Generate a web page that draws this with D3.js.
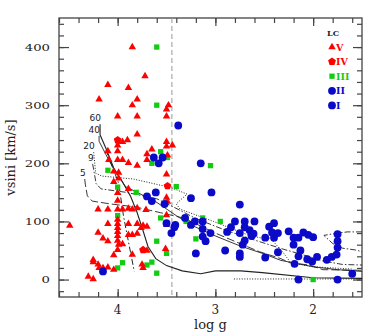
<!DOCTYPE html>
<html>
<head>
<meta charset="utf-8">
<script src="https://cdn.jsdelivr.net/npm/d3@7"></script>
<style>
  html, body { margin: 0; background: #fff; }
</style>
</head>
<body>
<svg id="chart" width="382" height="333"></svg>
<script>
// ticks + legend
const xTicks = [4, 3, 2];
const yTicks = [0, 100, 200, 300, 400];
const legendLabels = ["V", "IV", "III", "II", "I"];

// stars [log g, vsini]
const lcV = [
  [3.85,400],[3.72,350],[4.10,335],[3.89,330],[4.19,310],[3.80,310],[3.85,300],[3.48,300],[3.50,293],
  [4.00,281],[3.80,281],[3.50,281],[3.80,250],[3.90,240],[3.95,237],[4.00,231],[3.50,237],[3.44,231],
  [3.50,229],[4.10,221],[4.00,221],[3.65,224],[3.70,216],[4.00,206],[3.95,206],[3.89,201],[3.80,196],
  [4.09,206],[3.70,206],[3.49,214],
  [4.04,186],[3.99,184],[3.50,181],[3.99,174],[4.04,168],[3.89,156],[4.00,149],[4.00,136],[3.50,141],
  [4.20,121],[4.10,121],[4.00,121],[3.95,121],[3.89,122],[3.85,121],[3.80,123],[3.71,120],[3.50,111],
  [3.49,134],
  [4.49,93],[4.10,96],[4.00,103],[4.00,96],[3.89,96],[3.80,96],[3.74,93],[3.70,91],[3.50,94],[3.76,89],
  [4.00,89],[4.00,82],[4.20,81],[4.00,75],[3.89,77],[3.85,77],[3.80,79],[4.15,71],[4.10,66],[4.00,67],
  [3.99,60],[3.95,61],[4.00,51],[3.51,53],[3.70,50],[4.04,42],[3.85,43],[4.25,34],[4.25,30],[4.20,26],
  [4.10,21],[4.04,17],[4.15,20],[3.75,26],[3.74,20],[4.30,5],[4.25,1],[4.19,20]
];
const lcIV = [[4.00,240],[3.49,161],[3.74,51]];
const lcIII = [
  [3.60,400],[3.60,300],[3.56,220],[3.65,200],[3.49,210],[4.10,188],[3.05,196],[4.00,159],[4.00,110],
  [3.81,150],[3.40,160],[3.56,106],[3.20,70],[3.60,66],[3.50,45],[3.65,30],[3.70,25],[3.60,11],
  [3.95,29],[4.00,20],[3.13,106],[2.95,100],[3.30,100],[2.00,0]
];
const lcI_II = [
  [4.15,14],[3.63,210],[3.54,210],[3.58,200],[3.38,265],[3.15,200],[3.61,150],[3.70,143],[3.65,135],
  [3.52,130],[3.25,140],[3.31,106],[3.50,97],[3.41,94],[3.42,90],[3.45,80],[3.25,94],[3.21,100],
  [3.20,45],[3.04,150],[2.75,129],[3.13,100],[3.13,87],[3.05,80],[3.13,74],[3.10,66],[2.90,50],
  [2.80,100],[2.84,90],[2.88,82],[2.70,100],[2.60,100],[2.70,90],[2.75,80],[2.65,85],[2.63,75],
  [2.61,79],[2.70,67],[2.72,60],[2.75,45],[2.75,39],[2.49,72],[2.45,91],[2.40,97],[2.42,81],[2.40,72],
  [2.36,80],[2.49,38],[2.36,47],[2.25,83],[2.10,81],[2.05,77],[2.00,73],[2.20,72],[2.15,72],[2.20,60],
  [2.13,50],[2.15,40],[2.06,35],[2.01,31],[1.96,39],[2.19,27],[1.86,34],[1.81,39],[1.76,43],
  [1.75,78],[1.75,66],[1.75,55],[1.60,10],[2.15,0],[1.75,0]
];

// evolutionary tracks
const track60 = [[4.18,267],[4.18,249],[4.12,226],[4.04,192],[3.95,168],[3.87,144],[3.80,115],[3.74,84],
  [3.69,57],[3.61,36],[3.50,24],[3.34,15],[3.15,10],[3.00,15],[2.74,15],[2.52,12],[2.00,3],[1.50,2]];
const track40 = [[4.19,247],[4.19,238],[4.12,215],[4.04,190],[3.92,160],[3.61,134],[3.40,110],[3.25,94],
  [3.00,75],[2.75,58],[2.50,44],[2.33,33],[2.00,22],[1.75,17],[1.50,14]];
const track20 = [[4.245,219],[4.225,183],[4.16,178],[3.84,173],[3.45,158],[3.29,147],[3.35,138],[3.40,130],
  [3.36,121],[3.02,100],[2.67,77],[2.47,69],[2.44,72],[2.30,45],[2.23,29],[2.00,22],[1.80,20],[1.60,18]];
const track9 = [[4.256,199],[4.22,165],[4.17,156],[3.91,150],[3.60,139],[3.43,125],[3.20,105],[2.90,85],
  [2.60,68],[2.30,52],[2.05,40],[1.90,32],[1.70,26],[1.50,25]];
const track9end = [[1.50,82],[1.65,82],[1.75,80],[1.89,76],[1.80,62],[1.70,54],[1.57,51],[1.50,48]];
const track5 = [[4.337,173],[4.33,163],[4.31,144],[4.26,135],[4.07,130],[3.82,125],[3.56,115],[3.33,106],
  [3.25,100],[3.00,80],[2.75,62],[2.55,48],[2.33,36],[2.24,29],[2.04,25],[1.90,17],[1.50,16]];
const trackSteep = [[4.12,223],[3.99,166],[3.94,109],[3.88,57],[3.83,14]];
const trackFlat = [[2.81,1],[1.50,1]];
const trackLabels = ["60", "40", "20", "9", "5"];
const boundaryLogg = 3.445;

const svg = d3.select("#chart");
const x = d3.scaleLinear().domain([4.6, 1.5]).range([59, 362]);
const y = d3.scaleLinear().domain([-30, 450]).range([297, 18]);
const axisColor = "#444";

// frame
svg.append("rect")
  .attr("x", x.range()[0]).attr("y", y.range()[1])
  .attr("width", x.range()[1] - x.range()[0])
  .attr("height", y.range()[0] - y.range()[1])
  .attr("fill", "none").attr("stroke", axisColor).attr("stroke-width", 1.3);

const yMinor = d3.range(-20, 450, 20);
const xMinor = d3.range(1.6, 4.61, 0.2);

function tickLayer(axis, tx, ty) {
  const g = svg.append("g").attr("transform", `translate(${tx},${ty})`).call(axis);
  g.select(".domain").remove();
  g.selectAll("line").attr("stroke", axisColor).attr("stroke-width", 1.2);
  g.selectAll("text").remove();
  return g;
}
const X0 = x.range()[0], X1 = x.range()[1], Y0 = y.range()[0], Y1 = y.range()[1];
tickLayer(d3.axisLeft(y).tickValues(yMinor).tickSize(-5), X0, 0);
tickLayer(d3.axisLeft(y).tickValues(yTicks).tickSize(-10), X0, 0);
tickLayer(d3.axisRight(y).tickValues(yMinor).tickSize(-5), X1, 0);
tickLayer(d3.axisRight(y).tickValues(yTicks).tickSize(-9), X1, 0);
tickLayer(d3.axisBottom(x).tickValues(xMinor).tickSize(-5), 0, Y0);
tickLayer(d3.axisBottom(x).tickValues(xTicks).tickSize(-8), 0, Y0);
tickLayer(d3.axisTop(x).tickValues(xMinor).tickSize(-5), 0, Y1);
tickLayer(d3.axisTop(x).tickValues(xTicks).tickSize(-8), 0, Y1);

// tick labels
svg.append("g").selectAll("text").data(yTicks).join("text")
  .attr("x", 50).attr("y", d => y(d) + 3.5)
  .attr("text-anchor", "end")
  .attr("font-family", "DejaVu Serif").attr("font-size", 9.5)
  .attr("textLength", d => String(d).length * 8.4)
  .attr("lengthAdjust", "spacingAndGlyphs")
  .attr("fill", "#222")
  .text(d => d);
svg.append("g").selectAll("text").data(xTicks).join("text")
  .attr("x", d => x(d)).attr("y", 314)
  .attr("text-anchor", "middle")
  .attr("font-family", "DejaVu Serif").attr("font-size", 12)
  .attr("fill", "#222")
  .text(d => d);

// axis titles
svg.append("text")
  .attr("x", (X0 + X1) / 2).attr("y", 329)
  .attr("text-anchor", "middle")
  .attr("font-family", "DejaVu Serif").attr("font-size", 13)
  .attr("fill", "#222")
  .text("log g");
svg.append("text")
  .attr("transform", `translate(15,${(Y0 + Y1) / 2}) rotate(-90)`)
  .attr("text-anchor", "middle")
  .attr("font-family", "DejaVu Serif").attr("font-size", 13)
  .attr("fill", "#222")
  .text("vsini [km/s]");

// boundary
svg.append("line")
  .attr("x1", x(boundaryLogg)).attr("x2", x(boundaryLogg))
  .attr("y1", Y1).attr("y2", Y0)
  .attr("stroke", "#999").attr("stroke-width", 1).attr("stroke-dasharray", "5,3");

// tracks
const line = d3.line().x(d => x(d[0])).y(d => y(d[1]));
const trackStyles = [
  { data: track60, dash: null, w: 1.1 },
  { data: track40, dash: null, w: 0.9 },
  { data: track20, dash: "1,1.6", w: 1 },
  { data: track9, dash: "6,2,1.5,2", w: 0.9 },
  { data: track9end, dash: "6,2,1.5,2", w: 0.9 },
  { data: track5, dash: "8,3", w: 0.9 },
  { data: trackSteep, dash: "6,2.5,1.5,2.5", w: 1 },
  { data: trackFlat, dash: "1,1.6", w: 1 }
];
svg.append("g").selectAll("path").data(trackStyles).join("path")
  .attr("d", d => line(d.data))
  .attr("fill", "none")
  .attr("stroke", "#222")
  .attr("stroke-width", d => d.w)
  .attr("stroke-dasharray", d => d.dash);

const trackStarts = [track60, track40, track20, track9, track5];
svg.append("g").selectAll("text").data(trackStarts).join("text")
  .attr("x", d => x(d[0][0]) + 1)
  .attr("y", d => y(d[0][1]) - 3)
  .attr("text-anchor", "end")
  .attr("font-family", "DejaVu Sans").attr("font-size", 9)
  .attr("fill", "#222")
  .text((d, i) => trackLabels[i]);

// markers
const pentagon = {
  draw(ctx, size) {
    const r = Math.sqrt(size / 2.378);
    for (let i = 0; i < 5; i++) {
      const a = -Math.PI / 2 + i * 2 * Math.PI / 5;
      i ? ctx.lineTo(r * Math.cos(a), r * Math.sin(a)) : ctx.moveTo(r * Math.cos(a), r * Math.sin(a));
    }
    ctx.closePath();
  }
};
const red = "#ff0000", green = "#11cc11", blue = "#0a0ac8";
const series = [
  { data: lcIII, type: d3.symbolSquare, size: 28, color: green },
  { data: lcV, type: d3.symbolTriangle, size: 24, color: red },
  { data: lcIV, type: pentagon, size: 40, color: red },
  { data: lcI_II, type: d3.symbolCircle, size: 48, color: blue }
];
series.forEach(s => {
  svg.append("g").selectAll("path").data(s.data).join("path")
    .attr("transform", d => `translate(${x(d[0])},${y(d[1])})`)
    .attr("d", d3.symbol().type(s.type).size(s.size))
    .attr("fill", s.color);
});

// legend
const legendTypes = [
  { type: d3.symbolTriangle, size: 24, color: red },
  { type: pentagon, size: 40, color: red },
  { type: d3.symbolSquare, size: 28, color: green },
  { type: d3.symbolCircle, size: 48, color: blue },
  { type: d3.symbolCircle, size: 48, color: blue }
];
const lg = svg.append("g").attr("transform", "translate(332,47)");
lg.append("text").attr("x", -5).attr("y", -11)
  .attr("font-family", "DejaVu Serif").attr("font-size", 8).attr("font-weight", "bold")
  .attr("fill", "#222").text("LC");
const items = lg.selectAll("g").data(legendLabels).join("g")
  .attr("transform", (d, i) => `translate(0,${i * 14.6})`);
items.append("path")
  .attr("d", (d, i) => d3.symbol().type(legendTypes[i].type).size(legendTypes[i].size)())
  .attr("fill", (d, i) => legendTypes[i].color);
items.append("text")
  .attr("x", 4).attr("y", 3.5)
  .attr("font-family", "DejaVu Serif").attr("font-size", 9.5).attr("font-weight", "bold")
  .attr("fill", (d, i) => legendTypes[i].color)
  .text(d => d);
</script>
</body>
</html>
